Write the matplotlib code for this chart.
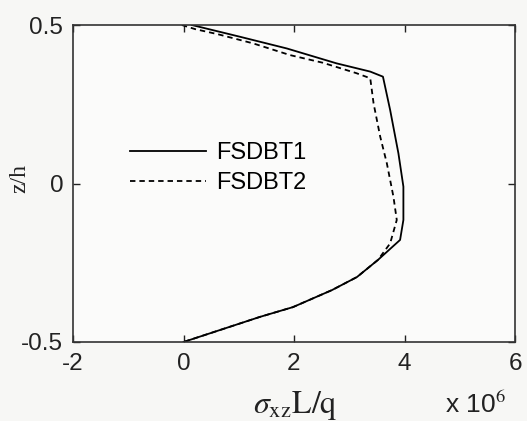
import matplotlib
matplotlib.use("Agg")
import matplotlib.pyplot as plt

# Data (x values in units of 1e6)
z1 = [0.5, 0.463, 0.426, 0.379, 0.353, 0.337, 0.232, 0.095, -0.01, -0.115, -0.178,
      -0.241, -0.295, -0.336, -0.39, -0.421, -0.5]
s1 = [0.15, 1.02, 1.87, 2.77, 3.38, 3.61, 3.74, 3.89, 3.98, 3.98, 3.92,
      3.52, 3.14, 2.69, 1.98, 1.38, 0.0]

z2 = [0.5, 0.487, 0.471, 0.442, 0.405, 0.381, 0.348, 0.332, 0.253, 0.148, 0.064,
      -0.042, -0.115, -0.189, -0.241, -0.295, -0.336, -0.39, -0.421, -0.5]
s2 = [-0.03, 0.21, 0.62, 1.26, 1.93, 2.52, 3.13, 3.38, 3.44, 3.56, 3.68,
      3.80, 3.86, 3.74, 3.52, 3.14, 2.69, 1.98, 1.38, 0.0]

labels = ["FSDBT1", "FSDBT2"]
xticks = [-2, 0, 2, 4, 6]
yticks = [-0.5, 0, 0.5]

plt.rcParams['font.family'] = ['Liberation Sans', 'DejaVu Sans']
plt.rcParams['mathtext.fontset'] = 'stix'

fig = plt.figure(figsize=(5.27, 4.21), dpi=100, facecolor='#f7f7f5')
ax = fig.add_axes([73/527, 1 - 342/421, (515-73)/527, (342-25)/421])
ax.set_facecolor('#fbfbfa')

ax.plot(s1, z1, color='black', lw=1.3, ls='-', label=labels[0])
ax.plot(s2, z2, color='black', lw=1.3, ls=(0, (3, 2.2)), label=labels[1])

ax.set_xlim(-2, 6)
ax.set_ylim(-0.5, 0.5)
ax.set_xticks(xticks)
ax.set_yticks(yticks)
ax.set_xticklabels(['-2', '0', '2', '4', '6'])
ax.set_yticklabels(['-0.5', '0', '0.5'])
ax.tick_params(direction='in', top=True, right=True, length=5, width=1,
               labelsize=17.5, colors='#222222')
ax.tick_params(axis='x', pad=8)
ax.tick_params(axis='y', pad=7)
for sp in ax.spines.values():
    sp.set_linewidth(1.2)
    sp.set_color('#333333')

fig.text(295/527, 1 - 405/421, r'$\sigma_{\mathrm{xz}}\mathrm{L/q}$', ha='center', va='center',
         fontsize=23, color='#222222')
fig.text(20/527, 1 - 178/421, 'z/h', rotation=90, ha='center', va='center',
         fontsize=17, family='Liberation Serif', color='#222222')
fig.text(475/527, 1 - 405/421, r'x 10$^{6}$', ha='center', va='center',
         fontsize=19, color='#222222')

ax.legend(loc='upper left', bbox_to_anchor=((121-73)/(515-73), (342-133)/(342-25)),
          frameon=False, fontsize=17, handlelength=3.2, handletextpad=0.45,
          labelspacing=0.32, borderaxespad=0)

fig.savefig('out.png', dpi=100, facecolor=fig.get_facecolor())
